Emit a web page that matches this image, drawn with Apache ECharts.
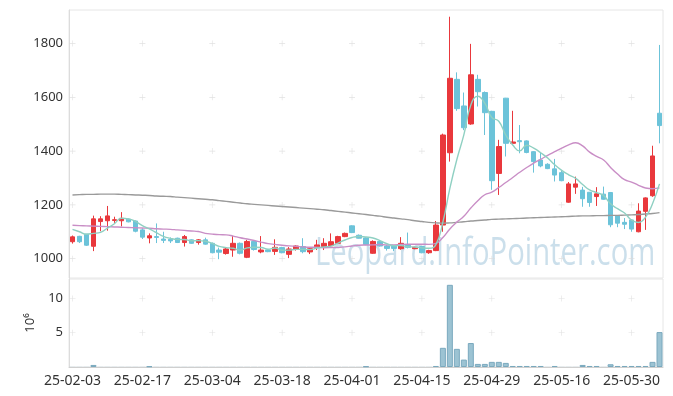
<!DOCTYPE html>
<html><head><meta charset="utf-8">
<script src="https://cdn.jsdelivr.net/npm/echarts@6/dist/echarts.min.js"></script>
<style>html,body{margin:0;padding:0;background:#fff}#c{width:673px;height:396px}</style>
</head><body><div id="c"></div>
<script>
const dates = ["25-02-03","25-02-04","25-02-05","25-02-06","25-02-07","25-02-10","25-02-11","25-02-12","25-02-13","25-02-14",
"25-02-17","25-02-18","25-02-19","25-02-20","25-02-21","25-02-24","25-02-25","25-02-26","25-02-27","25-02-28",
"25-03-04","25-03-05","25-03-06","25-03-07","25-03-10","25-03-11","25-03-12","25-03-13","25-03-14","25-03-17",
"25-03-18","25-03-19","25-03-20","25-03-21","25-03-24","25-03-25","25-03-26","25-03-27","25-03-28","25-03-31",
"25-04-01","25-04-02","25-04-03","25-04-04","25-04-07","25-04-08","25-04-09","25-04-10","25-04-11","25-04-14",
"25-04-15","25-04-16","25-04-17","25-04-18","25-04-21","25-04-22","25-04-23","25-04-24","25-04-25","25-04-28",
"25-04-29","25-04-30","25-05-02","25-05-07","25-05-08","25-05-09","25-05-12","25-05-13","25-05-14","25-05-15",
"25-05-16","25-05-19","25-05-20","25-05-21","25-05-22","25-05-23","25-05-26","25-05-27","25-05-28","25-05-29",
"25-05-30","25-06-02","25-06-04","25-06-05","25-06-09"];
const opens  = [1063,1083,1091,1046,1138,1141,1142,1141,1147,1140,1107,1077,1082,1073,1072,1076,1060,1070,1060,1070,
1057,1032,1019,1032,1057,1005,1064,1025,1032,1027,1041,1016,1035,1045,1025,1044,1045,1048,1057,1082,
1122,1087,1077,1020,1064,1047,1046,1037,1050,1037,1045,1022,1030,1125,1394,1667,1568,1501,1667,1618,
1548,1317,1597,1429,1439,1438,1398,1367,1351,1334,1320,1210,1266,1255,1247,1231,1240,1246,1160,1135,
1144,1100,1176,1234,1541];
const closes = [1081,1063,1050,1148,1148,1159,1145,1150,1137,1102,1080,1085,1079,1068,1066,1060,1082,1057,1070,1054,
1022,1024,1036,1057,1020,1064,1034,1032,1026,1042,1022,1036,1047,1026,1037,1051,1057,1063,1082,1094,
1097,1076,1053,1064,1047,1038,1038,1057,1042,1042,1022,1030,1125,1460,1671,1558,1487,1684,1621,1543,
1290,1417,1429,1434,1435,1395,1361,1345,1335,1311,1290,1278,1278,1223,1209,1241,1221,1126,1132,1128,
1110,1177,1226,1382,1495];
const lows   = [1056,1058,1047,1028,1102,1104,1133,1120,1135,1098,1073,1057,1058,1058,1058,1058,1045,1055,1052,1052,
1020,998,1015,1007,1016,1002,1030,1020,1024,1014,1020,1002,1030,1020,1017,1032,1032,1045,1054,1080,
1095,1075,1050,1018,1045,1030,1028,1033,1038,1035,1020,1018,1028,1100,1361,1550,1478,1498,1566,1460,
1256,1237,1380,1428,1392,1392,1320,1340,1333,1287,1288,1208,1241,1193,1193,1196,1219,1117,1117,1110,
1100,1098,1107,1230,1429];
const highs  = [1086,1085,1092,1160,1158,1196,1156,1173,1149,1142,1113,1094,1131,1100,1079,1078,1088,1072,1073,1078,
1060,1041,1040,1084,1060,1070,1068,1084,1034,1072,1044,1043,1050,1076,1041,1070,1076,1094,1085,1097,
1124,1090,1080,1068,1066,1050,1050,1080,1097,1044,1047,1033,1140,1465,1900,1693,1618,1799,1684,1622,
1550,1442,1598,1550,1497,1440,1400,1395,1355,1371,1330,1285,1305,1267,1248,1266,1268,1248,1162,1151,
1146,1206,1228,1420,1795];
// volume, in 10^6 shares
const volumes = [0.02,0.02,0.02,0.3,0.02,0.02,0.02,0.02,0.02,0.02,0.02,0.1,0.02,0.02,0.02,0.02,0.02,0.02,0.02,0.02,
0.02,0.02,0.02,0.02,0.02,0.02,0.02,0.02,0.02,0.02,0.02,0.02,0.02,0.02,0.02,0.02,0.02,0.02,0.02,0.02,
0.02,0.02,0.1,0.02,0.02,0.02,0.02,0.02,0.02,0.02,0.02,0.02,0.15,2.8,12.0,2.65,1.08,3.5,0.45,0.45,
0.75,0.75,0.6,0.15,0.15,0.15,0.15,0.15,0.02,0.15,0.02,0.02,0.02,0.3,0.15,0.15,0.02,0.4,0.15,0.15,
0.15,0.15,0.15,0.75,5.1];
const ma5Lead  = [1109,1100,1091,1094];
const ma20Lead = [1124,1123,1122,1121,1120,1119,1118,1117,1116,1115,1114,1113,1111,1110,1109,1107,1105,1103,1101];
const maLong = [1237,1238,1239,1239,1240,1240,1240,1239,1238,1237,1236,1235,1233,1232,1231,1229,1227,1225,1223,1221,
1219,1216,1213,1210,1207,1204,1202,1200,1198,1196,1194,1192,1190,1188,1186,1184,1182,1179,1176,1173,
1170,1167,1164,1161,1158,1154,1151,1148,1145,1141,1138,1135,1133,1132,1133,1135,1137,1140,1142,1144,
1146,1147,1148,1149,1150,1151,1152,1153,1154,1155,1156,1157,1158,1159,1159,1160,1160,1161,1161,1162,
1163,1164,1166,1168,1171];
const priceTicks = [1000,1200,1400,1600,1800];
const volumeTicks = [5,10];
const labelEvery = 10;

function movingAvg(n, lead){
  return closes.map((c,i)=>{
    if(i < n-1) return lead[i];
    let s=0; for(let k=i-n+1;k<=i;k++) s+=closes[k];
    return +(s/n).toFixed(1);
  });
}
const ma5 = movingAvg(5, ma5Lead);
const ma20 = movingAvg(20, ma20Lead);
const candleData = dates.map((d,i)=>[opens[i],closes[i],lows[i],highs[i]]);
const volData = volumes.map(v => v < 0.05 ? {value:v, itemStyle:{borderWidth:0}} : v);

const gridCats = dates.filter((d,i)=>i%labelEvery===0);
const plusMain=[], plusVol=[];
gridCats.forEach(c=>{ priceTicks.forEach(v=>plusMain.push([c,v])); volumeTicks.forEach(v=>plusVol.push([c,v])); });
const plusPath='path://M4.5,0h1v10h-1zM0,4.5h10v1h-10z';
const font='"Noto Sans", "Open Sans", sans-serif';

const chart = echarts.init(document.getElementById('c'), null, {renderer:'canvas'});
chart.setOption({
  animation:false,
  backgroundColor:'#fff',
  textStyle:{fontFamily:font},
  grid:[
    {left:69,right:10,top:10,height:268,show:true,borderColor:'#e6e6e6',borderWidth:1},
    {left:69,right:10,top:279,height:88,show:true,borderColor:'#e6e6e6',borderWidth:1}
  ],
  graphic:[{type:'text',x:315,y:235,scaleX:0.77,z:-1,silent:true,
    style:{text:'Leopard.InfoPointer.com',font:'38px "Open Sans", sans-serif',fill:'rgba(160,196,218,0.55)'}}],
  xAxis:[
    {type:'category',gridIndex:0,data:dates,boundaryGap:true,axisLine:{show:false},axisTick:{show:false},axisLabel:{show:false},splitLine:{show:false}},
    {type:'category',gridIndex:1,data:dates,boundaryGap:true,axisLine:{show:true,lineStyle:{color:'#cfcfcf'}},axisTick:{show:false},
      axisLabel:{interval:labelEvery-1,fontSize:14,color:'#333',margin:7,fontFamily:font},splitLine:{show:false}}
  ],
  yAxis:[
    {type:'value',gridIndex:0,min:928,max:1925,scale:true,axisLine:{show:true,lineStyle:{color:'#dcdcdc'}},axisTick:{show:false},
      axisLabel:{fontSize:13,color:'#333',margin:6,showMinLabel:false,showMaxLabel:false,fontFamily:font,formatter:v=>String(v)},splitLine:{show:false}},
    {type:'value',gridIndex:1,min:0,max:12.85,interval:5,axisLine:{show:true,lineStyle:{color:'#dcdcdc'}},axisTick:{show:false},
      axisLabel:{fontSize:13,color:'#333',margin:6,showMinLabel:false,showMaxLabel:false,fontFamily:font,formatter:v=>String(v)},splitLine:{show:false},
      name:'10⁶',nameLocation:'middle',nameRotate:90,nameGap:32,nameTextStyle:{fontSize:13,color:'#333',fontFamily:font}}
  ],
  series:[
    {type:'scatter',xAxisIndex:0,yAxisIndex:0,data:plusMain,symbol:plusPath,symbolSize:6,silent:true,z:0,itemStyle:{color:'#dadada'}},
    {type:'scatter',xAxisIndex:1,yAxisIndex:1,data:plusVol,symbol:plusPath,symbolSize:6,silent:true,z:0,itemStyle:{color:'#dadada'}},
    {type:'candlestick',xAxisIndex:0,yAxisIndex:0,data:candleData,barWidth:5,z:3,
      itemStyle:{color:'#e9383c',color0:'#6cc3d9',borderColor:'#e9383c',borderColor0:'#6cc3d9',borderWidth:1}},
    {type:'line',xAxisIndex:0,yAxisIndex:0,data:maLong,showSymbol:false,smooth:true,z:4,lineStyle:{color:'#9a9a9a',width:1.4}},
    {type:'line',xAxisIndex:0,yAxisIndex:0,data:ma20,showSymbol:false,smooth:true,z:4,lineStyle:{color:'#c98ec6',width:1.4}},
    {type:'line',xAxisIndex:0,yAxisIndex:0,data:ma5,showSymbol:false,smooth:true,z:4,lineStyle:{color:'#8fd0c2',width:1.4}},
    {type:'bar',xAxisIndex:1,yAxisIndex:1,data:volData,barWidth:6,z:3,
      itemStyle:{color:'#9cc3d3',borderColor:'#7aa9be',borderWidth:1}}
  ]
});
</script></body></html>
